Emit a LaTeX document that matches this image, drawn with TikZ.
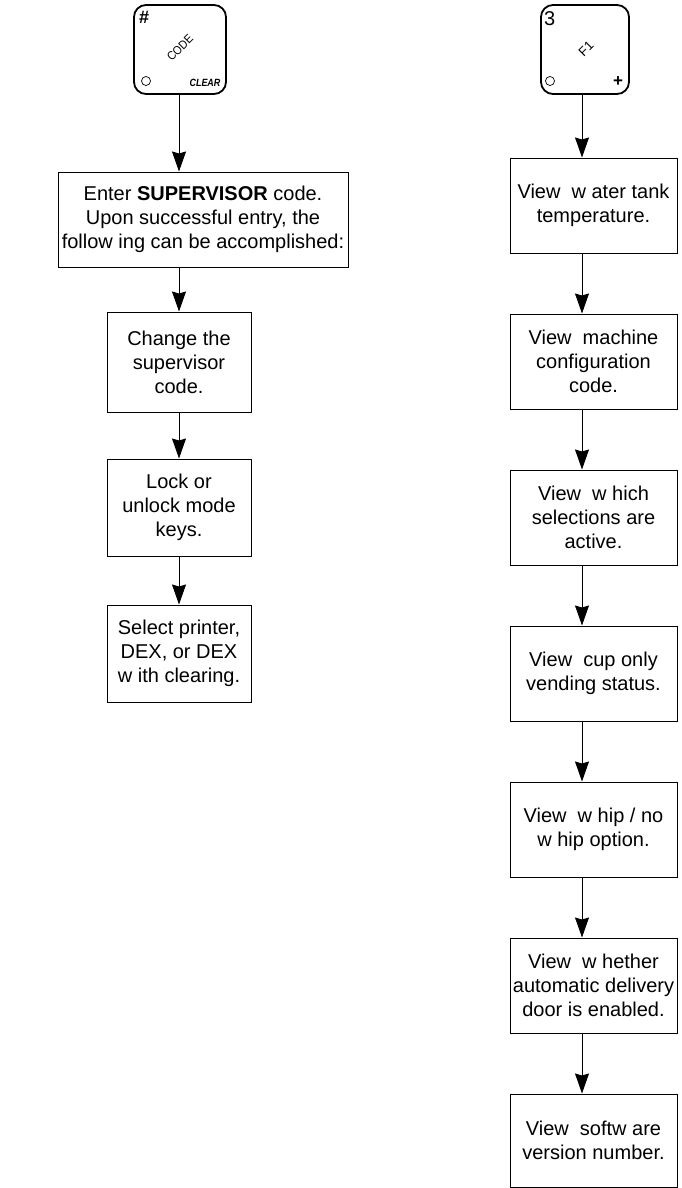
\documentclass[tikz,border=0pt]{standalone}
\usepackage{fontspec}
\setmainfont{Liberation Sans}
\usetikzlibrary{arrows.meta}
\tikzset{
  stepbox/.style={draw, line width=1pt, rectangle, inner sep=0pt, align=center,
    font=\fontsize{20}{24}\selectfont},
  keycap/.style={draw, line width=1.8pt, rounded corners=12pt, minimum height=89pt,
    inner sep=0pt},
  keytext/.style={inner sep=0pt},
  flow/.style={line width=1pt, -{Stealth[length=20pt, width=14pt, inset=2pt]}}
}
\begin{document}
\begin{tikzpicture}[x=1pt, y=-1pt]
    \useasboundingbox (0,0) rectangle (682,1188);
    % left column: supervisor code
    \node[keycap, minimum width=92pt] (code) at (180,49.5) {};
    \node[keytext, anchor=north west, font=\fontsize{18}{18}\selectfont\bfseries] (hash) at (139,11) {\#};
    \node[keytext, rotate=45, xscale=0.9, font=\fontsize{12}{12}\selectfont] (codetxt) at (180,48) {CODE};
    \draw[line width=0.7pt] (146,81) circle (4.5pt);
    \node[keytext, xscale=0.85, font=\fontsize{10.5}{10.5}\selectfont\bfseries\itshape] (clear) at (205,83) {CLEAR};
    \node[stepbox, minimum width=290pt, minimum height=95pt] (enter) at (203,219.5)
      {Enter \textbf{SUPERVISOR} code.\\ Upon successful entry, the\\ follow ing can be accomplished:};
    \node[stepbox, minimum width=144pt, minimum height=100pt] (change) at (179,362)
      {Change the\\ supervisor\\ code.};
    \node[stepbox, minimum width=144pt, minimum height=97pt] (lock) at (179,507.5)
      {Lock or\\ unlock mode\\ keys.};
    \node[stepbox, minimum width=144pt, minimum height=97pt] (printer) at (179,653.5)
      {Select printer,\\ DEX, or DEX\\ w ith clearing.};
    \draw[flow] (code.south -| change) -- (change |- enter.north);
    \draw[flow] (change |- enter.south) -- (change);
    \draw[flow] (change) -- (lock);
    \draw[flow] (lock) -- (printer);
    % right column: view settings
    \node[keycap, minimum width=88pt] (fone) at (585,49.5) {};
    \node[keytext, anchor=north west, font=\fontsize{20}{20}\selectfont] (three) at (544,11) {3};
    \node[keytext, rotate=45, font=\fontsize{13}{13}\selectfont] (fonetxt) at (586,49) {F1};
    \draw[line width=0.7pt] (550,81) circle (4.5pt);
    \node[keytext, font=\fontsize{17}{17}\selectfont\bfseries] (plus) at (618,82) {+};
    \node[stepbox, minimum width=167pt, minimum height=95pt] (tank) at (593.5,205.5)
      {View\ \ w ater tank\\ temperature.};
    \node[stepbox, minimum width=167pt, minimum height=95pt] (config) at (593.5,361.5)
      {View\ \ machine\\ configuration\\ code.};
    \node[stepbox, minimum width=167pt, minimum height=95pt] (active) at (593.5,517.5)
      {View\ \ w hich\\ selections are\\ active.};
    \node[stepbox, minimum width=167pt, minimum height=95pt] (cup) at (593.5,673.5)
      {View\ \ cup only\\ vending status.};
    \node[stepbox, minimum width=167pt, minimum height=95pt] (whip) at (593.5,829.5)
      {View\ \ w hip / no\\ w hip option.};
    \node[stepbox, minimum width=167pt, minimum height=95pt] (door) at (593.5,985.5)
      {View\ \ w hether\\ automatic delivery\\ door is enabled.};
    \node[stepbox, minimum width=167pt, minimum height=93pt] (version) at (593.5,1140.5)
      {View\ \ softw are\\ version number.};
    \coordinate (rline) at (582,0);
    \draw[flow] (fone.south -| rline) -- (rline |- tank.north);
    \draw[flow] (rline |- tank.south) -- (rline |- config.north);
    \draw[flow] (rline |- config.south) -- (rline |- active.north);
    \draw[flow] (rline |- active.south) -- (rline |- cup.north);
    \draw[flow] (rline |- cup.south) -- (rline |- whip.north);
    \draw[flow] (rline |- whip.south) -- (rline |- door.north);
    \draw[flow] (rline |- door.south) -- (rline |- version.north);
\end{tikzpicture}
\end{document}
